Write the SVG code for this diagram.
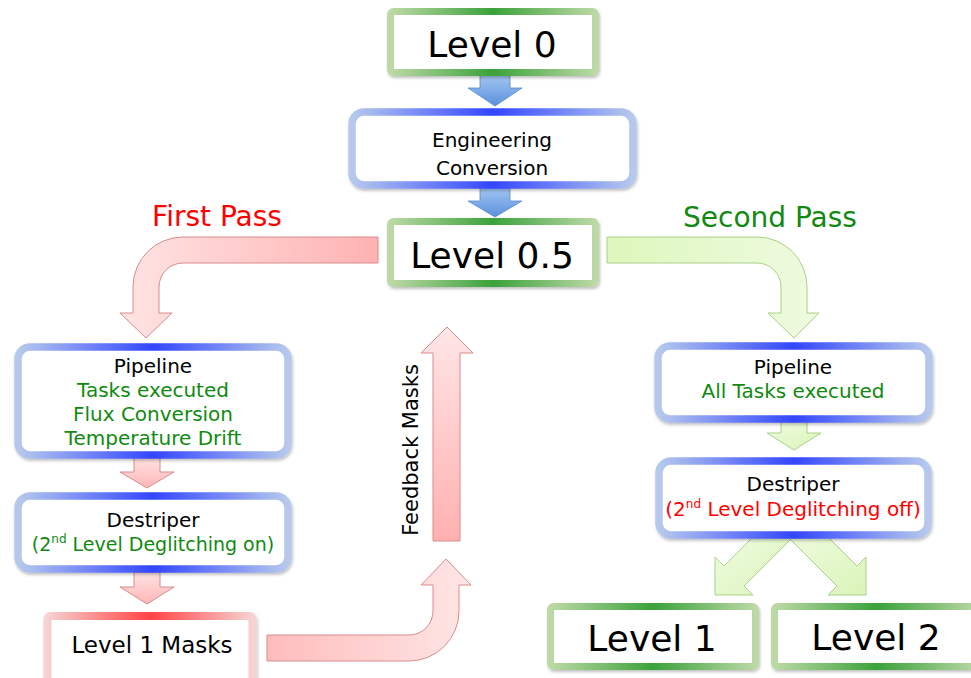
<svg xmlns="http://www.w3.org/2000/svg" width="971" height="678" viewBox="0 0 971 678">
  <defs>
    <linearGradient id="gGreen" x1="0" y1="0" x2="1" y2="0">
      <stop offset="0" stop-color="#bcd9a6"/>
      <stop offset="0.5" stop-color="#3aa23a"/>
      <stop offset="1" stop-color="#bcd9a6"/>
    </linearGradient>
    <linearGradient id="gBlue" x1="0" y1="0" x2="1" y2="0">
      <stop offset="0" stop-color="#b6c9ec"/>
      <stop offset="0.5" stop-color="#3346ff"/>
      <stop offset="1" stop-color="#b6c9ec"/>
    </linearGradient>
    <linearGradient id="gRed" x1="0" y1="0" x2="1" y2="0">
      <stop offset="0" stop-color="#f6d2d2"/>
      <stop offset="0.5" stop-color="#ff4444"/>
      <stop offset="1" stop-color="#f6d2d2"/>
    </linearGradient>
    <linearGradient id="fBlue" x1="0" y1="0" x2="0" y2="1">
      <stop offset="0" stop-color="#a6c8f2"/>
      <stop offset="1" stop-color="#5a90de"/>
    </linearGradient>
    <linearGradient id="fRedDown" x1="0" y1="0" x2="0" y2="1">
      <stop offset="0" stop-color="#ffe4e4"/>
      <stop offset="1" stop-color="#ffb6b6"/>
    </linearGradient>
    <linearGradient id="fRedUp" x1="0" y1="0" x2="0" y2="1">
      <stop offset="0" stop-color="#ffe6e6"/>
      <stop offset="1" stop-color="#ffb0b0"/>
    </linearGradient>
    <linearGradient id="fRedFirst" gradientUnits="userSpaceOnUse" x1="120" y1="0" x2="378" y2="0">
      <stop offset="0" stop-color="#ffe4e4"/>
      <stop offset="1" stop-color="#ffb2b2"/>
    </linearGradient>
    <linearGradient id="fRedBack" gradientUnits="userSpaceOnUse" x1="267" y1="0" x2="472" y2="0">
      <stop offset="0" stop-color="#ffbcbc"/>
      <stop offset="1" stop-color="#ffe6e6"/>
    </linearGradient>
    <linearGradient id="fGreenSecond" gradientUnits="userSpaceOnUse" x1="607" y1="0" x2="819" y2="0">
      <stop offset="0" stop-color="#def7bc"/>
      <stop offset="1" stop-color="#eefbe0"/>
    </linearGradient>
    <linearGradient id="fGreen" x1="0" y1="0" x2="1" y2="1">
      <stop offset="0" stop-color="#f0fce2"/>
      <stop offset="1" stop-color="#daf4b8"/>
    </linearGradient>
    <filter id="shadow" x="-10%" y="-10%" width="120%" height="130%">
      <feDropShadow dx="1" dy="2" stdDeviation="1.5" flood-color="#000" flood-opacity="0.25"/>
    </filter>
  </defs>
  <style>
    text { font-family: "DejaVu Sans", "Liberation Sans", sans-serif; text-anchor: middle; }
    .big { font-size: 36px; fill: #000; }
    .mid { font-size: 20px; fill: #000; }
    .mid19 { font-size: 19px; }
    .sup { font-size: 12px; }
    .grn { fill: #108a10; }
    .red { fill: #ff0000; }
    .pass { font-size: 28px; }
    .boxG { fill: #fff; stroke: url(#gGreen); stroke-width: 7; filter: url(#shadow); }
    .boxB { fill: #fff; stroke: url(#gBlue); stroke-width: 7.5; filter: url(#shadow); }
    .boxR { fill: #fff; stroke: url(#gRed); stroke-width: 8; filter: url(#shadow); }
    .arB { fill: url(#fBlue); stroke: #5a88c8; stroke-width: 0.8; }
    .arR { stroke: #d88c8c; stroke-width: 1; }
    .arG { stroke: #a8d08a; stroke-width: 1; }
  </style>
  <rect width="971" height="678" fill="#fff"/>

  <g id="connectors">
    <polygon class="arB" points="480,74 510,74 510,88 522,88 495,106 468,88 480,88"/>
    <polygon class="arB" points="480,187 510,187 510,201 522,201 495,217 468,201 480,201"/>
    <path id="first-pass-arrow" class="arR" fill="url(#fRedFirst)" d="M 378 237 L 183 237 A 50 50 0 0 0 133 287 L 133 313 L 120 313 L 146 338 L 172 313 L 159 313 L 159 287 A 24 24 0 0 1 183 263 L 378 263 Z"/>
    <polygon class="arR" fill="url(#fRedDown)" points="134,457 160,457 160,472 174,472 147,488 120,472 134,472"/>
    <polygon class="arR" fill="url(#fRedDown)" points="134,572 160,572 160,587 174,587 147,604 120,587 134,587"/>
    <path id="back-arrow" class="arR" fill="url(#fRedBack)" d="M 267 635 L 409 635 A 24 24 0 0 0 433 611 L 433 585 L 421 585 L 446 559 L 471 585 L 459 585 L 459 611 A 50 50 0 0 1 409 661 L 267 661 Z"/>
    <polygon id="feedback-arrow" class="arR" fill="url(#fRedUp)" points="433,541 433,353 421,353 447,327 473,353 460,353 460,541"/>
    <path id="second-pass-arrow" class="arG" fill="url(#fGreenSecond)" d="M 607 237 L 757 237 A 50 50 0 0 1 807 287 L 807 313 L 819 313 L 794 338 L 768 313 L 781 313 L 781 287 A 24 24 0 0 0 757 263 L 607 263 Z"/>
    <polygon class="arG" fill="url(#fGreen)" points="781,421 807,421 807,433 821,433 794,450 767,433 781,433"/>
    <polygon class="arG" fill="url(#fGreen)" points="760,530 724,566 715,557 715,595 753,595 744,586 800,530"/>
    <polygon class="arG" fill="url(#fGreen)" points="821,530 857,566 866,557 866,595 828,595 837,586 781,530"/>
  </g>

  <g id="level0">
    <rect class="boxG" x="390.5" y="11.5" width="205" height="61" rx="3"/>
    <text class="big" x="492" y="57">Level 0</text>
  </g>
  <g id="engineering-conversion">
    <rect class="boxB" x="352" y="112" width="281" height="73" rx="12"/>
    <text class="mid" x="492" y="147">Engineering</text>
    <text class="mid" x="492" y="175">Conversion</text>
  </g>
  <g id="level05">
    <rect class="boxG" x="390.5" y="221.5" width="205" height="62" rx="3"/>
    <text class="big" x="492" y="268">Level 0.5</text>
  </g>
  <g id="first-pass-label">
    <text class="pass red" x="217" y="226">First Pass</text>
  </g>
  <g id="second-pass-label">
    <text class="pass grn" x="770" y="227">Second Pass</text>
  </g>
  <g id="pipeline-first">
    <rect class="boxB" x="18" y="347" width="270" height="108" rx="12"/>
    <text class="mid" x="153" y="373">Pipeline</text>
    <text class="mid grn" x="153" y="397">Tasks executed</text>
    <text class="mid grn" x="153" y="421">Flux Conversion</text>
    <text class="mid grn" x="153" y="445">Temperature Drift</text>
  </g>
  <g id="destriper-first">
    <rect class="boxB" x="18" y="496" width="270" height="73" rx="12"/>
    <text class="mid" x="153" y="527">Destriper</text>
    <text class="mid mid19 grn" x="153" y="551">(2<tspan class="sup" dy="-8">nd</tspan><tspan dy="8"> Level Deglitching on)</tspan></text>
  </g>
  <g id="level1-masks">
    <rect class="boxR" x="47.5" y="616" width="205" height="72" rx="3"/>
    <text x="152" y="653" font-size="23">Level 1 Masks</text>
  </g>
  <g id="feedback-label">
    <text x="0" y="0" font-size="21" transform="translate(418 450) rotate(-90)">Feedback Masks</text>
  </g>
  <g id="pipeline-second">
    <rect class="boxB" x="658" y="346" width="271" height="73" rx="12"/>
    <text class="mid" x="793" y="374">Pipeline</text>
    <text class="mid grn" x="793" y="398">All Tasks executed</text>
  </g>
  <g id="destriper-second">
    <rect class="boxB" x="659" y="461" width="269" height="74" rx="12"/>
    <text class="mid" x="793" y="491">Destriper</text>
    <text class="mid red" x="793" y="516">(2<tspan class="sup" dy="-8">nd</tspan><tspan dy="8"> Level Deglitching off)</tspan></text>
  </g>
  <g id="level1">
    <rect class="boxG" x="550.5" y="606.5" width="205" height="60" rx="3"/>
    <text class="big" x="652" y="651">Level 1</text>
  </g>
  <g id="level2">
    <rect class="boxG" x="774.5" y="606.5" width="205" height="60" rx="3"/>
    <text class="big" x="876" y="650">Level 2</text>
  </g>
</svg>
